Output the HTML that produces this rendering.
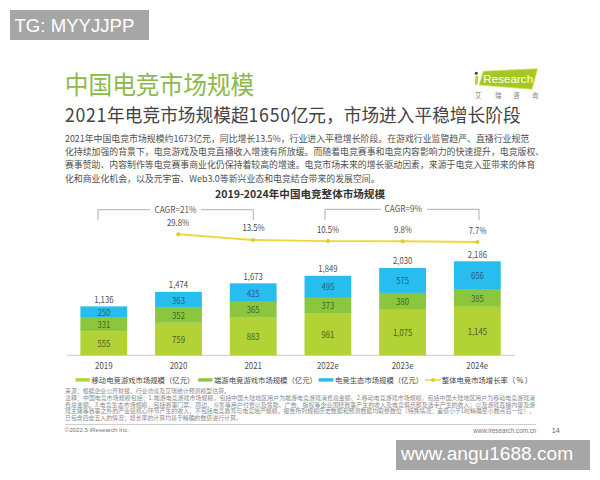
<!DOCTYPE html>
<html lang="zh">
<head>
<meta charset="utf-8">
<title>中国电竞市场规模</title>
<style>
html,body{margin:0;padding:0;background:#fff;}
body{width:600px;height:480px;position:relative;overflow:hidden;font-family:"Liberation Sans","Noto Sans CJK SC",sans-serif;}
.abs{position:absolute;white-space:nowrap;}
#tg{left:10px;top:10px;width:139px;height:30px;background:#a6a6a6;color:#fff;font-size:18.6px;line-height:31px;text-indent:4.5px;font-family:"Liberation Sans",sans-serif;}
#wm{left:396px;top:440px;width:194px;height:30px;background:#a6a6a6;color:#fff;font-size:19.12px;line-height:28px;text-indent:5px;font-family:"Liberation Sans",sans-serif;}
#title{left:64.8px;top:67px;font-size:23.7px;line-height:34px;color:#8cb94c;transform-origin:0 28.8px;transform:scaleY(1.05);font-family:"Noto Sans CJK SC",sans-serif;}
#sub{left:65px;top:99.5px;font-size:17.7px;line-height:28px;color:#444;transform-origin:0 23px;transform:scaleY(1.045);font-family:"Noto Sans CJK SC",sans-serif;}
#para{left:65px;top:132px;font-size:8.9px;line-height:13.2px;color:#505050;transform:translateY(-0.5px);font-family:"Noto Sans CJK SC",sans-serif;}
#ctitle{left:215px;top:185.6px;width:170px;text-align:center;font-size:10.57px;line-height:16px;font-weight:bold;color:#333;font-family:"Noto Sans CJK SC",sans-serif;}
#copy{left:64.6px;top:425px;font-size:6.17px;line-height:9px;color:#777;}
#site{left:473.3px;top:425.6px;font-size:6.3px;line-height:9px;color:#777;}
#pg{left:551.7px;top:426px;font-size:7.2px;line-height:9px;color:#666;}
#hr{left:65px;top:424px;width:471px;height:1px;background:#cfcfcf;}
.d{letter-spacing:0.7px;}
svg{position:absolute;left:0;top:0;}
</style>
</head>
<body>
<div class="abs" id="tg">TG: MYYJJPP</div>
<div class="abs" id="title">中国电竞市场规模</div>
<div class="abs" id="sub"><span class="d">2021</span>年电竞市场规模超<span class="d">1650</span>亿元，市场进入平稳增长阶段</div>
<div class="abs" id="para">2021年中国电竞市场规模约1673亿元，同比增长13.5%，行业进入平稳增长阶段。在游戏行业监管趋严、直播行业规范<br>化持续加强的背景下，电竞游戏及电竞直播收入增速有所放缓。而随着电竞赛事和电竞内容影响力的快速提升，电竞版权、<br>赛事赞助、内容制作等电竞赛事商业化仍保持着较高的增速。电竞市场未来的增长驱动因素，来源于电竞入亚带来的体育<br>化和商业化机会，以及元宇宙、Web3.0等新兴业态和电竞结合带来的发展空间。</div>
<div class="abs" id="ctitle">2019-2024年中国电竞整体市场规模</div>

<svg width="600" height="480" viewBox="0 0 600 480" font-family="'Liberation Sans','Noto Sans CJK SC',sans-serif">
  <!-- logo -->
  <polygon points="483.3,71.3 537.5,68.7 532,89.2 479.2,85" fill="#a5c724" stroke="#cfe060" stroke-width="0.8"/>
  <circle cx="476.3" cy="73.2" r="1.5" fill="#2b3a7a"/>
  <polygon points="475.6,76 478.4,76 477.4,84.8 474.6,84.8" fill="#b7d433"/>
  <text x="483.2" y="83.1" font-size="11.7" fill="#fff" font-family="'Liberation Sans',sans-serif">Research</text>
  <g font-size="6.4" fill="#7a7a7a" text-anchor="middle" font-family="'Noto Sans CJK SC',sans-serif">
    <text x="478.3" y="98.3">艾</text><text x="498.3" y="98.3">瑞</text><text x="516.5" y="98.3">咨</text><text x="535" y="98.3">询</text>
  </g>

  <!-- CAGR brackets -->
  <g fill="none" stroke="#9a9a9a" stroke-width="0.8">
    <polyline points="98,220 98,209.7 150,209.7"/>
    <polyline points="201,209.7 253.3,209.7 253.3,220"/>
    <polyline points="325,220 325,209.3 381,209.3"/>
    <polyline points="427,209.3 479,209.3 479,220"/>
  </g>
  <g font-size="8.4" fill="#555" text-anchor="middle" font-family="'Noto Sans CJK SC','Liberation Sans',sans-serif">
    <text transform="translate(175.5,212.5) scale(0.97,1)">CAGR=21%</text>
    <text transform="translate(403.3,212.2) scale(0.97,1)">CAGR=9%</text>
  </g>

  <!-- growth line -->
  <polyline points="178.3,234.3 253,240 328,241.1 402.7,241.3 477.4,242" fill="none" stroke="#ecd93f" stroke-width="1.9"/>
  <g fill="#dccf33">
    <circle cx="178.3" cy="234.3" r="2.1"/><circle cx="253" cy="240" r="2.1"/><circle cx="328" cy="241.1" r="2.1"/><circle cx="402.7" cy="241.3" r="2.1"/><circle cx="477.4" cy="242" r="2.1"/>
  </g>
  <g font-size="8.5" fill="#4a4a4a" text-anchor="middle" font-family="'Noto Sans CJK SC','Liberation Sans',sans-serif">
    <text transform="translate(178,225.9) scale(0.91,1)">29.8%</text>
    <text transform="translate(253.5,231.4) scale(0.91,1)">13.5%</text>
    <text transform="translate(328,232.6) scale(0.91,1)">10.5%</text>
    <text transform="translate(403,232.6) scale(0.91,1)">9.8%</text>
    <text transform="translate(477.6,234) scale(0.91,1)">7.7%</text>
  </g>

  <!-- bars -->
  <line x1="67" y1="355.3" x2="515" y2="355.3" stroke="#c9c9c9" stroke-width="1"/>
<!--BARS-START-->
  <rect x="80.4" y="331.4" width="46.8" height="23.8" fill="#b2d235"/>
  <rect x="80.4" y="317.1" width="46.8" height="14.4" fill="#8cc63f"/>
  <rect x="80.4" y="306.4" width="46.8" height="10.9" fill="#27bdee"/>
  <g text-anchor="middle" font-family="'Noto Sans CJK SC','Liberation Sans',sans-serif"><text transform="translate(103.8,347.3) scale(0.91,1)" fill="#4d5f1c" font-size="8.5">555</text><text transform="translate(103.8,328.2) scale(0.91,1)" fill="#45661f" font-size="8.5">331</text><text transform="translate(103.8,315.8) scale(0.91,1)" fill="#1d6483" font-size="8.5">250</text><text transform="translate(103.8,302.6) scale(0.91,1)" fill="#505050" font-size="8.5">1,136</text><text transform="translate(103.8,368.9) scale(0.91,1)" fill="#505050" font-size="8.7">2019</text></g>
  <rect x="155.1" y="322.6" width="46.8" height="32.6" fill="#b2d235"/>
  <rect x="155.1" y="307.5" width="46.8" height="15.3" fill="#8cc63f"/>
  <rect x="155.1" y="291.9" width="46.8" height="15.8" fill="#27bdee"/>
  <g text-anchor="middle" font-family="'Noto Sans CJK SC','Liberation Sans',sans-serif"><text transform="translate(178.5,342.9) scale(0.91,1)" fill="#4d5f1c" font-size="8.5">759</text><text transform="translate(178.5,319.0) scale(0.91,1)" fill="#45661f" font-size="8.5">352</text><text transform="translate(178.5,303.7) scale(0.91,1)" fill="#1d6483" font-size="8.5">363</text><text transform="translate(178.5,288.1) scale(0.91,1)" fill="#505050" font-size="8.5">1,474</text><text transform="translate(178.5,368.9) scale(0.91,1)" fill="#505050" font-size="8.7">2020</text></g>
  <rect x="229.8" y="317.3" width="46.8" height="37.9" fill="#b2d235"/>
  <rect x="229.8" y="301.6" width="46.8" height="15.9" fill="#8cc63f"/>
  <rect x="229.8" y="283.3" width="46.8" height="18.5" fill="#27bdee"/>
  <g text-anchor="middle" font-family="'Noto Sans CJK SC','Liberation Sans',sans-serif"><text transform="translate(253.2,340.2) scale(0.91,1)" fill="#4d5f1c" font-size="8.5">883</text><text transform="translate(253.2,313.4) scale(0.91,1)" fill="#45661f" font-size="8.5">365</text><text transform="translate(253.2,296.5) scale(0.91,1)" fill="#1d6483" font-size="8.5">425</text><text transform="translate(253.2,279.5) scale(0.91,1)" fill="#505050" font-size="8.5">1,673</text><text transform="translate(253.2,368.9) scale(0.91,1)" fill="#505050" font-size="8.7">2021</text></g>
  <rect x="304.5" y="313.1" width="46.8" height="42.1" fill="#b2d235"/>
  <rect x="304.5" y="297.0" width="46.8" height="16.2" fill="#8cc63f"/>
  <rect x="304.5" y="275.8" width="46.8" height="21.5" fill="#27bdee"/>
  <g text-anchor="middle" font-family="'Noto Sans CJK SC','Liberation Sans',sans-serif"><text transform="translate(327.9,338.1) scale(0.91,1)" fill="#4d5f1c" font-size="8.5">981</text><text transform="translate(327.9,309.0) scale(0.91,1)" fill="#45661f" font-size="8.5">373</text><text transform="translate(327.9,290.4) scale(0.91,1)" fill="#1d6483" font-size="8.5">495</text><text transform="translate(327.9,272.0) scale(0.91,1)" fill="#505050" font-size="8.5">1,849</text><text transform="translate(327.9,368.9) scale(0.91,1)" fill="#505050" font-size="8.7">2022e</text></g>
  <rect x="379.2" y="309.0" width="46.8" height="46.2" fill="#b2d235"/>
  <rect x="379.2" y="292.7" width="46.8" height="16.5" fill="#8cc63f"/>
  <rect x="379.2" y="268.0" width="46.8" height="24.9" fill="#27bdee"/>
  <g text-anchor="middle" font-family="'Noto Sans CJK SC','Liberation Sans',sans-serif"><text transform="translate(402.6,336.1) scale(0.91,1)" fill="#4d5f1c" font-size="8.5">1,075</text><text transform="translate(402.6,304.9) scale(0.91,1)" fill="#45661f" font-size="8.5">380</text><text transform="translate(402.6,284.3) scale(0.91,1)" fill="#1d6483" font-size="8.5">575</text><text transform="translate(402.6,264.2) scale(0.91,1)" fill="#505050" font-size="8.5">2,030</text><text transform="translate(402.6,368.9) scale(0.91,1)" fill="#505050" font-size="8.7">2023e</text></g>
  <rect x="453.9" y="306.0" width="46.8" height="49.2" fill="#b2d235"/>
  <rect x="453.9" y="289.5" width="46.8" height="16.7" fill="#8cc63f"/>
  <rect x="453.9" y="261.3" width="46.8" height="28.4" fill="#27bdee"/>
  <g text-anchor="middle" font-family="'Noto Sans CJK SC','Liberation Sans',sans-serif"><text transform="translate(477.3,334.6) scale(0.91,1)" fill="#4d5f1c" font-size="8.5">1,145</text><text transform="translate(477.3,301.7) scale(0.91,1)" fill="#45661f" font-size="8.5">385</text><text transform="translate(477.3,279.4) scale(0.91,1)" fill="#1d6483" font-size="8.5">656</text><text transform="translate(477.3,257.5) scale(0.91,1)" fill="#505050" font-size="8.5">2,186</text><text transform="translate(477.3,368.9) scale(0.91,1)" fill="#505050" font-size="8.7">2024e</text></g>
<!--BARS-END-->
  <!-- legend -->
  <rect x="75.5" y="378.2" width="14.2" height="3.4" fill="#b2d235"/>
  <rect x="198.2" y="378.2" width="14.2" height="3.4" fill="#8cc63f"/>
  <rect x="318.6" y="378.2" width="14.8" height="3.4" fill="#27bdee"/>
  <line x1="425" y1="380" x2="441" y2="380" stroke="#ecd93f" stroke-width="1.6"/>
  <circle cx="433" cy="380" r="2" fill="#dccf33"/>
  <g font-size="7.35" fill="#444" font-family="'Noto Sans CJK SC',sans-serif">
    <text x="91.5" y="382.6">移动电竞游戏市场规模（亿元）</text>
    <text x="214" y="382.6">端游电竞游戏市场规模（亿元）</text>
    <text x="335" y="382.6">电竞生态市场规模（亿元）</text>
    <text x="441.8" y="382.6">整体电竞市场增长率（<tspan dx="1.2">%</tspan><tspan dx="1.6">）</tspan></text>
  </g>
  <!-- notes -->
  <g font-size="5.9" fill="#8a8a8a" font-family="'Noto Sans CJK SC',sans-serif">
    <text x="65" y="393.00">来源：根据企业公开财报、行业访谈及艾瑞统计预测模型估算。</text>
    <text x="65" y="399.75" textLength="470" lengthAdjust="spacing">注释：中国电竞市场规模包括：1.端游电竞游戏市场规模，包括中国大陆地区用户为端游电竞游戏消费总金额、2.移动电竞游戏市场规模，包括中国大陆地区用户为移动电竞游戏消</text>
    <text x="65" y="406.50" textLength="470" lengthAdjust="spacing">费总金额。3.电竞生态市场规模，包括赛事门票、周边、众筹等用户付费以及赞助、广告、版权等企业围绕赛事产生的收入及电竞俱乐部及选手产生的收入；以及游戏直播内容及游</text>
    <text x="65" y="413.25" textLength="470" lengthAdjust="spacing">戏主播等赛事之外的产业链核心环节产生的收入；不包括电竞教育与电竞地产规模。报告所列规模历史数据和预测数据均取整数位（特殊情况：差值小于1时精确至小数点后一位），</text>
    <text x="65" y="420.00">已包含四舍五入的情况；增长率的计算均基于精确的数值进行计算。</text>
  </g>
</svg>


<div class="abs" id="hr"></div>
<div class="abs" id="copy">©2022.5 iResearch Inc.</div>
<div class="abs" id="site">www.iresearch.com.cn</div>
<div class="abs" id="pg">14</div>
<div class="abs" id="wm">www.angu1688.com</div>
</body>
</html>
